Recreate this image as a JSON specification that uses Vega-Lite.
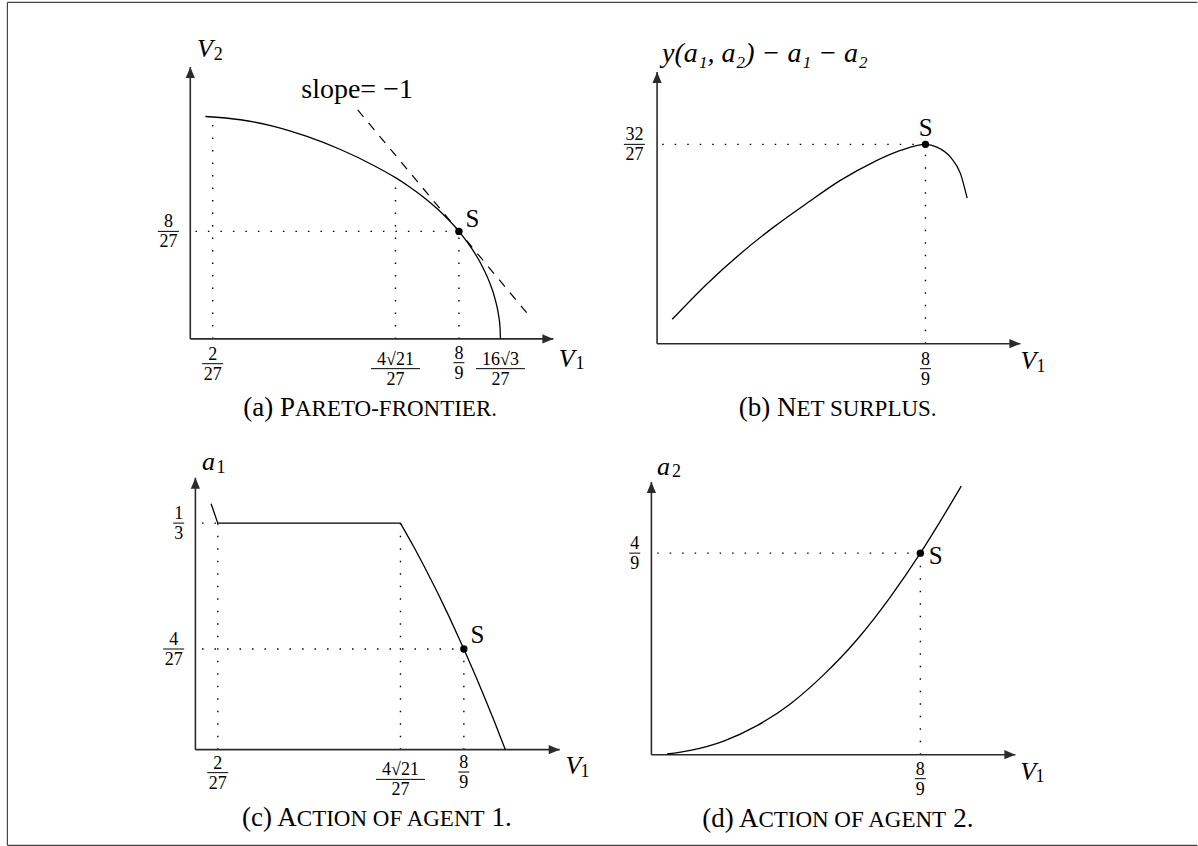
{
  "$schema": "https://vega.github.io/schema/vega-lite/v6.json",
  "padding": {"left": 6.4, "top": 1.4, "right": 0, "bottom": 0},
  "background": "#ffffff",
  "columns": 2,
  "spacing": {"row": 40, "column": 20},
  "bounds": "flush",
  "config": {
    "view": {"stroke": null},
    "text": {"font": "Liberation Serif", "color": "#000000"}
  },
  "datasets": {
    "frame": [
      {"x": -0.6052, "y": 0.9275, "x2": -0.6052, "y2": -1.3961},
      {"x": -0.6052, "y": 0.9275, "x2": 3.3326, "y2": 0.9275},
      {"x": -0.6052, "y": -1.3961, "x2": 3.3326, "y2": -1.3961}
    ],
    "axes": [
      {"panel": "a", "x": 0, "y": 0, "x2": 1.2015, "y2": 0, "dir": "right"},
      {"panel": "a", "x": 0, "y": 0, "x2": 0, "y2": 0.7492, "dir": "up"},
      {"panel": "b", "x": 0, "y": 0, "x2": 1.2034, "y2": 0, "dir": "right"},
      {"panel": "b", "x": 0, "y": 0, "x2": 0, "y2": 1.6147, "dir": "up"},
      {"panel": "c", "x": 0, "y": 0, "x2": 1.2063, "y2": 0, "dir": "right"},
      {"panel": "c", "x": 0, "y": 0, "x2": 0, "y2": 0.4001, "dir": "up"},
      {"panel": "d", "x": 0, "y": 0, "x2": 1.2029, "y2": 0, "dir": "right"},
      {"panel": "d", "x": 0, "y": 0, "x2": 0, "y2": 0.601, "dir": "up"}
    ],
    "curves": [
      {"panel": "a", "x": 0.05, "y": 0.613},
      {"panel": "a", "x": 0.166, "y": 0.604},
      {"panel": "a", "x": 0.276, "y": 0.586},
      {"panel": "a", "x": 0.386, "y": 0.558},
      {"panel": "a", "x": 0.497, "y": 0.522},
      {"panel": "a", "x": 0.607, "y": 0.478},
      {"panel": "a", "x": 0.679, "y": 0.4444},
      {"panel": "a", "x": 0.72, "y": 0.4223},
      {"panel": "a", "x": 0.77, "y": 0.3918},
      {"panel": "a", "x": 0.82, "y": 0.3564},
      {"panel": "a", "x": 0.8889, "y": 0.2963},
      {"panel": "a", "x": 0.93, "y": 0.2507},
      {"panel": "a", "x": 0.96, "y": 0.2097},
      {"panel": "a", "x": 0.99, "y": 0.1564},
      {"panel": "a", "x": 1.01, "y": 0.1055},
      {"panel": "a", "x": 1.02, "y": 0.066},
      {"panel": "a", "x": 1.025, "y": 0.0308},
      {"panel": "a", "x": 1.0264, "y": 0},
      {"panel": "b", "x": 0.05, "y": 0.145},
      {"panel": "b", "x": 0.166, "y": 0.357},
      {"panel": "b", "x": 0.276, "y": 0.535},
      {"panel": "b", "x": 0.386, "y": 0.693},
      {"panel": "b", "x": 0.497, "y": 0.836},
      {"panel": "b", "x": 0.607, "y": 0.971},
      {"panel": "b", "x": 0.717, "y": 1.08},
      {"panel": "b", "x": 0.806, "y": 1.149},
      {"panel": "b", "x": 0.8889, "y": 1.1852},
      {"panel": "b", "x": 0.927, "y": 1.169},
      {"panel": "b", "x": 0.972, "y": 1.109},
      {"panel": "b", "x": 1.005, "y": 1.011},
      {"panel": "b", "x": 1.027, "y": 0.866},
      {"panel": "c", "x": 0.052, "y": 0.3619},
      {"panel": "c", "x": 0.0741, "y": 0.3333},
      {"panel": "c", "x": 0.679, "y": 0.3333},
      {"panel": "c", "x": 0.72, "y": 0.301},
      {"panel": "c", "x": 0.76, "y": 0.2677},
      {"panel": "c", "x": 0.8, "y": 0.2326},
      {"panel": "c", "x": 0.84, "y": 0.1957},
      {"panel": "c", "x": 0.8889, "y": 0.1481},
      {"panel": "c", "x": 0.93, "y": 0.1061},
      {"panel": "c", "x": 0.96, "y": 0.0742},
      {"panel": "c", "x": 0.99, "y": 0.0413},
      {"panel": "c", "x": 1.0264, "y": 0},
      {"panel": "d", "x": 0.052, "y": 0.0015},
      {"panel": "d", "x": 0.129, "y": 0.0095},
      {"panel": "d", "x": 0.239, "y": 0.03},
      {"panel": "d", "x": 0.349, "y": 0.064},
      {"panel": "d", "x": 0.459, "y": 0.112},
      {"panel": "d", "x": 0.569, "y": 0.176},
      {"panel": "d", "x": 0.68, "y": 0.254},
      {"panel": "d", "x": 0.79, "y": 0.348},
      {"panel": "d", "x": 0.8889, "y": 0.4444},
      {"panel": "d", "x": 0.955, "y": 0.515},
      {"panel": "d", "x": 1.024, "y": 0.592}
    ],
    "guides": [
      {"panel": "a", "x": 0.0741, "y": 0, "x2": 0.0741, "y2": 0.608},
      {"panel": "a", "x": 0.679, "y": 0, "x2": 0.679, "y2": 0.437},
      {"panel": "a", "x": 0.8889, "y": 0, "x2": 0.8889, "y2": 0.2963},
      {"panel": "a", "x": 0.017, "y": 0.2963, "x2": 0.8889, "y2": 0.2963},
      {"panel": "b", "x": 0.8889, "y": 0, "x2": 0.8889, "y2": 1.1852},
      {"panel": "b", "x": 0.017, "y": 1.1852, "x2": 0.8889, "y2": 1.1852},
      {"panel": "c", "x": 0.0741, "y": 0, "x2": 0.0741, "y2": 0.3333},
      {"panel": "c", "x": 0.679, "y": 0, "x2": 0.679, "y2": 0.3333},
      {"panel": "c", "x": 0.8889, "y": 0, "x2": 0.8889, "y2": 0.1481},
      {"panel": "c", "x": 0.022, "y": 0.3333, "x2": 0.0741, "y2": 0.3333},
      {"panel": "c", "x": 0.022, "y": 0.1481, "x2": 0.8889, "y2": 0.1481},
      {"panel": "d", "x": 0.8889, "y": 0, "x2": 0.8889, "y2": 0.4444},
      {"panel": "d", "x": 0.019, "y": 0.4444, "x2": 0.8889, "y2": 0.4444}
    ],
    "tangent": [
      {"panel": "a", "x": 0.554, "y": 0.6312, "x2": 1.1145, "y2": 0.0707}
    ],
    "points": [
      {"panel": "a", "x": 0.8889, "y": 0.2963},
      {"panel": "b", "x": 0.8889, "y": 1.1852},
      {"panel": "c", "x": 0.8889, "y": 0.1481},
      {"panel": "d", "x": 0.8889, "y": 0.4444}
    ],
    "labels": [
      {"panel": "a", "x": 0.9103, "y": 0.3082, "text": "S"},
      {"panel": "b", "x": 0.8665, "y": 1.2325, "text": "S"},
      {"panel": "c", "x": 0.9106, "y": 0.1568, "text": "S"},
      {"panel": "d", "x": 0.9164, "y": 0.4211, "text": "S"}
    ],
    "notes": [
      {"panel": "a", "x": 0.552, "y": 0.6648, "text": "slope= \u22121"}
    ],
    "ylabels": [
      {"panel": "b", "x": 0.0166, "y": 1.6742, "text": "y(a\u2081, a\u2082) \u2212 a\u2081 \u2212 a\u2082"}
    ],
    "italics": [
      {"panel": "a", "x": 0.0225, "y": 0.7767, "text": "V"},
      {"panel": "a", "x": 1.2191, "y": -0.0777, "text": "V"},
      {"panel": "b", "x": 1.2034, "y": -0.1486, "text": "V"},
      {"panel": "c", "x": 0.0222, "y": 0.4108, "text": "a"},
      {"panel": "c", "x": 1.2252, "y": -0.0353, "text": "V"},
      {"panel": "d", "x": 0.0188, "y": 0.6157, "text": "a"},
      {"panel": "d", "x": 1.2194, "y": -0.0567, "text": "V"}
    ],
    "subs": [
      {"panel": "a", "x": 0.0774, "y": 0.7676, "text": "2"},
      {"panel": "a", "x": 1.2743, "y": -0.0841, "text": "1"},
      {"panel": "b", "x": 1.2564, "y": -0.17, "text": "1"},
      {"panel": "c", "x": 0.0695, "y": 0.4064, "text": "1"},
      {"panel": "c", "x": 1.2748, "y": -0.0403, "text": "1"},
      {"panel": "d", "x": 0.0684, "y": 0.6113, "text": "2"},
      {"panel": "d", "x": 1.269, "y": -0.0604, "text": "1"}
    ],
    "fractions": [
      {"panel": "a", "x": 0.0741, "y": -0.0684, "num": "2", "den": "27"},
      {"panel": "a", "x": 0.679, "y": -0.0821, "num": "4\u221a21", "den": "27"},
      {"panel": "a", "x": 0.8889, "y": -0.0656, "num": "8", "den": "9"},
      {"panel": "a", "x": 1.0264, "y": -0.0821, "num": "16\u221a3", "den": "27"},
      {"panel": "a", "x": -0.0725, "y": 0.2963, "num": "8", "den": "27"},
      {"panel": "b", "x": -0.0752, "y": 1.1852, "num": "32", "den": "27"},
      {"panel": "b", "x": 0.8889, "y": -0.1486, "num": "8", "den": "9"},
      {"panel": "c", "x": 0.0741, "y": -0.0338, "num": "2", "den": "27"},
      {"panel": "c", "x": 0.679, "y": -0.0437, "num": "4\u221a21", "den": "27"},
      {"panel": "c", "x": 0.8889, "y": -0.0329, "num": "8", "den": "9"},
      {"panel": "c", "x": -0.0553, "y": 0.3333, "num": "1", "den": "3"},
      {"panel": "c", "x": -0.0719, "y": 0.1481, "num": "4", "den": "27"},
      {"panel": "d", "x": -0.0552, "y": 0.4444, "num": "4", "den": "9"},
      {"panel": "d", "x": 0.8889, "y": -0.0529, "num": "8", "den": "9"}
    ],
    "captions": [
      {"panel": "a", "x": 0.3465, "y": -0.2136, "p1": "(a) P", "p2": "ARETO-FRONTIER."},
      {"panel": "b", "x": 0.4617, "y": -0.4322, "p1": "(b) N", "p2": "ET SURPLUS."},
      {"panel": "c", "x": 0.3358, "y": -0.1128, "p1": "(c) A", "p2": "CTION OF AGENT", "x3": 0.9808, "p3": "1."},
      {"panel": "d", "x": 0.3536, "y": -0.1603, "p1": "(d) A", "p2": "CTION OF AGENT", "x3": 0.9974, "p3": "2."}
    ]
  },
  "concat": [
    {
      "width": 440, "height": 360,
      "encoding": {
        "x": {"field": "x", "type": "quantitative", "scale": {"domain": [-0.132, 1.324], "nice": false, "zero": false}, "axis": null},
        "y": {"field": "y", "type": "quantitative", "scale": {"domain": [-0.142, 0.8503], "nice": false, "zero": false}, "axis": null}
      },
      "layer": [
        {"data": {"name": "frame"}, "mark": {"type": "rule", "color": "#444444", "strokeWidth": 1.2}, "encoding": {"x2": {"field": "x2"}, "y2": {"field": "y2"}}},
        {"data": {"name": "guides"}, "transform": [{"filter": "datum.panel === 'a'"}], "mark": {"type": "rule", "strokeDash": [1.5, 11], "strokeWidth": 1.4, "color": "#000000"}, "encoding": {"x2": {"field": "x2"}, "y2": {"field": "y2"}}},
        {"data": {"name": "tangent"}, "transform": [{"filter": "datum.panel === 'a'"}], "mark": {"type": "rule", "strokeDash": [9, 8], "strokeWidth": 1.2, "color": "#000000"}, "encoding": {"x2": {"field": "x2"}, "y2": {"field": "y2"}}},
        {"data": {"name": "axes"}, "transform": [{"filter": "datum.panel === 'a'"}], "mark": {"type": "rule", "strokeWidth": 1.6, "color": "#2b2b2b"}, "encoding": {"x2": {"field": "x2"}, "y2": {"field": "y2"}}},
        {"data": {"name": "axes"}, "transform": [{"filter": "datum.panel === 'a'"}], "mark": {"type": "point", "filled": true, "opacity": 1, "size": 484, "color": "#2b2b2b"}, "encoding": {"x": {"field": "x2", "type": "quantitative"}, "y": {"field": "y2", "type": "quantitative"}, "shape": {"field": "dir", "type": "nominal", "scale": {"domain": ["right", "up"], "range": ["M-1,-0.42L0,0L-1,0.42Z", "M-0.42,1L0,0L0.42,1Z"]}, "legend": null}}},
        {"data": {"name": "curves"}, "transform": [{"filter": "datum.panel === 'a'"}], "mark": {"type": "line", "interpolate": "monotone", "strokeWidth": 1.3, "color": "#000000"}},
        {"data": {"name": "points"}, "transform": [{"filter": "datum.panel === 'a'"}], "mark": {"type": "point", "shape": "circle", "filled": true, "opacity": 1, "size": 55, "color": "#000000"}},
        {"data": {"name": "labels"}, "transform": [{"filter": "datum.panel === 'a'"}], "mark": {"type": "text", "align": "left", "baseline": "alphabetic", "fontSize": 25}, "encoding": {"text": {"field": "text"}}},
        {"data": {"name": "notes"}, "transform": [{"filter": "datum.panel === 'a'"}], "mark": {"type": "text", "align": "center", "baseline": "alphabetic", "fontSize": 28}, "encoding": {"text": {"field": "text"}}},
        {"data": {"name": "italics"}, "transform": [{"filter": "datum.panel === 'a'"}], "mark": {"type": "text", "align": "left", "baseline": "alphabetic", "fontSize": 26, "fontStyle": "italic"}, "encoding": {"text": {"field": "text"}}},
        {"data": {"name": "subs"}, "transform": [{"filter": "datum.panel === 'a'"}], "mark": {"type": "text", "align": "left", "baseline": "alphabetic", "fontSize": 18}, "encoding": {"text": {"field": "text"}}},
        {"data": {"name": "fractions"}, "transform": [{"filter": "datum.panel === 'a'"}], "mark": {"type": "text", "align": "center", "baseline": "alphabetic", "fontSize": 18, "dy": -4}, "encoding": {"text": {"field": "num"}}},
        {"data": {"name": "fractions"}, "transform": [{"filter": "datum.panel === 'a'"}], "mark": {"type": "text", "align": "center", "baseline": "alphabetic", "fontSize": 18, "dy": 16}, "encoding": {"text": {"field": "den"}}},
        {"data": {"name": "fractions"}, "transform": [{"filter": "datum.panel === 'a' && length(datum.den) === 1"}], "mark": {"type": "rule", "strokeWidth": 1, "color": "#000000", "xOffset": -5.5, "x2Offset": 5.5}, "encoding": {"x2": {"field": "x"}}},
        {"data": {"name": "fractions"}, "transform": [{"filter": "datum.panel === 'a' && length(datum.den) === 2 && length(datum.num) <= 2"}], "mark": {"type": "rule", "strokeWidth": 1, "color": "#000000", "xOffset": -10.5, "x2Offset": 10.5}, "encoding": {"x2": {"field": "x"}}},
        {"data": {"name": "fractions"}, "transform": [{"filter": "datum.panel === 'a' && length(datum.num) > 2"}], "mark": {"type": "rule", "strokeWidth": 1, "color": "#000000", "xOffset": -24.5, "x2Offset": 24.5}, "encoding": {"x2": {"field": "x"}}},
        {"data": {"name": "captions"}, "transform": [{"filter": "datum.panel === 'a'"}], "mark": {"type": "text", "align": "right", "baseline": "alphabetic", "fontSize": 27}, "encoding": {"text": {"field": "p1"}}},
        {"data": {"name": "captions"}, "transform": [{"filter": "datum.panel === 'a'"}], "mark": {"type": "text", "align": "left", "baseline": "alphabetic", "fontSize": 23}, "encoding": {"text": {"field": "p2"}}}
      ]
    },
    {
      "width": 440, "height": 360,
      "encoding": {
        "x": {"field": "x", "type": "quantitative", "scale": {"domain": [-0.1547, 1.3028], "nice": false, "zero": false}, "axis": null},
        "y": {"field": "y", "type": "quantitative", "scale": {"domain": [-0.2776, 1.8627], "nice": false, "zero": false}, "axis": null}
      },
      "layer": [
        {"data": {"name": "guides"}, "transform": [{"filter": "datum.panel === 'b'"}], "mark": {"type": "rule", "strokeDash": [1.5, 11], "strokeWidth": 1.4, "color": "#000000"}, "encoding": {"x2": {"field": "x2"}, "y2": {"field": "y2"}}},
        {"data": {"name": "axes"}, "transform": [{"filter": "datum.panel === 'b'"}], "mark": {"type": "rule", "strokeWidth": 1.6, "color": "#2b2b2b"}, "encoding": {"x2": {"field": "x2"}, "y2": {"field": "y2"}}},
        {"data": {"name": "axes"}, "transform": [{"filter": "datum.panel === 'b'"}], "mark": {"type": "point", "filled": true, "opacity": 1, "size": 484, "color": "#2b2b2b"}, "encoding": {"x": {"field": "x2", "type": "quantitative"}, "y": {"field": "y2", "type": "quantitative"}, "shape": {"field": "dir", "type": "nominal", "scale": {"domain": ["right", "up"], "range": ["M-1,-0.42L0,0L-1,0.42Z", "M-0.42,1L0,0L0.42,1Z"]}, "legend": null}}},
        {"data": {"name": "curves"}, "transform": [{"filter": "datum.panel === 'b'"}], "mark": {"type": "line", "interpolate": "monotone", "strokeWidth": 1.3, "color": "#000000"}},
        {"data": {"name": "points"}, "transform": [{"filter": "datum.panel === 'b'"}], "mark": {"type": "point", "shape": "circle", "filled": true, "opacity": 1, "size": 55, "color": "#000000"}},
        {"data": {"name": "labels"}, "transform": [{"filter": "datum.panel === 'b'"}], "mark": {"type": "text", "align": "left", "baseline": "alphabetic", "fontSize": 25}, "encoding": {"text": {"field": "text"}}},
        {"data": {"name": "ylabels"}, "transform": [{"filter": "datum.panel === 'b'"}], "mark": {"type": "text", "align": "left", "baseline": "alphabetic", "fontSize": 28, "fontStyle": "italic"}, "encoding": {"text": {"field": "text"}}},
        {"data": {"name": "italics"}, "transform": [{"filter": "datum.panel === 'b'"}], "mark": {"type": "text", "align": "left", "baseline": "alphabetic", "fontSize": 26, "fontStyle": "italic"}, "encoding": {"text": {"field": "text"}}},
        {"data": {"name": "subs"}, "transform": [{"filter": "datum.panel === 'b'"}], "mark": {"type": "text", "align": "left", "baseline": "alphabetic", "fontSize": 18}, "encoding": {"text": {"field": "text"}}},
        {"data": {"name": "fractions"}, "transform": [{"filter": "datum.panel === 'b'"}], "mark": {"type": "text", "align": "center", "baseline": "alphabetic", "fontSize": 18, "dy": -4}, "encoding": {"text": {"field": "num"}}},
        {"data": {"name": "fractions"}, "transform": [{"filter": "datum.panel === 'b'"}], "mark": {"type": "text", "align": "center", "baseline": "alphabetic", "fontSize": 18, "dy": 16}, "encoding": {"text": {"field": "den"}}},
        {"data": {"name": "fractions"}, "transform": [{"filter": "datum.panel === 'b' && length(datum.den) === 1"}], "mark": {"type": "rule", "strokeWidth": 1, "color": "#000000", "xOffset": -5.5, "x2Offset": 5.5}, "encoding": {"x2": {"field": "x"}}},
        {"data": {"name": "fractions"}, "transform": [{"filter": "datum.panel === 'b' && length(datum.den) === 2 && length(datum.num) <= 2"}], "mark": {"type": "rule", "strokeWidth": 1, "color": "#000000", "xOffset": -10.5, "x2Offset": 10.5}, "encoding": {"x2": {"field": "x"}}},
        {"data": {"name": "captions"}, "transform": [{"filter": "datum.panel === 'b'"}], "mark": {"type": "text", "align": "right", "baseline": "alphabetic", "fontSize": 27}, "encoding": {"text": {"field": "p1"}}},
        {"data": {"name": "captions"}, "transform": [{"filter": "datum.panel === 'b'"}], "mark": {"type": "text", "align": "left", "baseline": "alphabetic", "fontSize": 23}, "encoding": {"text": {"field": "p2"}}}
      ]
    },
    {
      "width": 440, "height": 360,
      "encoding": {
        "x": {"field": "x", "type": "quantitative", "scale": {"domain": [-0.149, 1.3079], "nice": false, "zero": false}, "axis": null},
        "y": {"field": "y", "type": "quantitative", "scale": {"domain": [-0.0599, 0.4697], "nice": false, "zero": false}, "axis": null}
      },
      "layer": [
        {"data": {"name": "guides"}, "transform": [{"filter": "datum.panel === 'c'"}], "mark": {"type": "rule", "strokeDash": [1.5, 11], "strokeWidth": 1.4, "color": "#000000"}, "encoding": {"x2": {"field": "x2"}, "y2": {"field": "y2"}}},
        {"data": {"name": "axes"}, "transform": [{"filter": "datum.panel === 'c'"}], "mark": {"type": "rule", "strokeWidth": 1.6, "color": "#2b2b2b"}, "encoding": {"x2": {"field": "x2"}, "y2": {"field": "y2"}}},
        {"data": {"name": "axes"}, "transform": [{"filter": "datum.panel === 'c'"}], "mark": {"type": "point", "filled": true, "opacity": 1, "size": 484, "color": "#2b2b2b"}, "encoding": {"x": {"field": "x2", "type": "quantitative"}, "y": {"field": "y2", "type": "quantitative"}, "shape": {"field": "dir", "type": "nominal", "scale": {"domain": ["right", "up"], "range": ["M-1,-0.42L0,0L-1,0.42Z", "M-0.42,1L0,0L0.42,1Z"]}, "legend": null}}},
        {"data": {"name": "curves"}, "transform": [{"filter": "datum.panel === 'c'"}], "mark": {"type": "line", "interpolate": "linear", "strokeWidth": 1.3, "color": "#000000"}},
        {"data": {"name": "points"}, "transform": [{"filter": "datum.panel === 'c'"}], "mark": {"type": "point", "shape": "circle", "filled": true, "opacity": 1, "size": 55, "color": "#000000"}},
        {"data": {"name": "labels"}, "transform": [{"filter": "datum.panel === 'c'"}], "mark": {"type": "text", "align": "left", "baseline": "alphabetic", "fontSize": 25}, "encoding": {"text": {"field": "text"}}},
        {"data": {"name": "italics"}, "transform": [{"filter": "datum.panel === 'c'"}], "mark": {"type": "text", "align": "left", "baseline": "alphabetic", "fontSize": 26, "fontStyle": "italic"}, "encoding": {"text": {"field": "text"}}},
        {"data": {"name": "subs"}, "transform": [{"filter": "datum.panel === 'c'"}], "mark": {"type": "text", "align": "left", "baseline": "alphabetic", "fontSize": 18}, "encoding": {"text": {"field": "text"}}},
        {"data": {"name": "fractions"}, "transform": [{"filter": "datum.panel === 'c'"}], "mark": {"type": "text", "align": "center", "baseline": "alphabetic", "fontSize": 18, "dy": -4}, "encoding": {"text": {"field": "num"}}},
        {"data": {"name": "fractions"}, "transform": [{"filter": "datum.panel === 'c'"}], "mark": {"type": "text", "align": "center", "baseline": "alphabetic", "fontSize": 18, "dy": 16}, "encoding": {"text": {"field": "den"}}},
        {"data": {"name": "fractions"}, "transform": [{"filter": "datum.panel === 'c' && length(datum.den) === 1"}], "mark": {"type": "rule", "strokeWidth": 1, "color": "#000000", "xOffset": -5.5, "x2Offset": 5.5}, "encoding": {"x2": {"field": "x"}}},
        {"data": {"name": "fractions"}, "transform": [{"filter": "datum.panel === 'c' && length(datum.den) === 2 && length(datum.num) <= 2"}], "mark": {"type": "rule", "strokeWidth": 1, "color": "#000000", "xOffset": -10.5, "x2Offset": 10.5}, "encoding": {"x2": {"field": "x"}}},
        {"data": {"name": "fractions"}, "transform": [{"filter": "datum.panel === 'c' && length(datum.num) > 2"}], "mark": {"type": "rule", "strokeWidth": 1, "color": "#000000", "xOffset": -24.5, "x2Offset": 24.5}, "encoding": {"x2": {"field": "x"}}},
        {"data": {"name": "captions"}, "transform": [{"filter": "datum.panel === 'c'"}], "mark": {"type": "text", "align": "right", "baseline": "alphabetic", "fontSize": 27}, "encoding": {"text": {"field": "p1"}}},
        {"data": {"name": "captions"}, "transform": [{"filter": "datum.panel === 'c'"}], "mark": {"type": "text", "align": "left", "baseline": "alphabetic", "fontSize": 23}, "encoding": {"text": {"field": "p2"}}},
        {"data": {"name": "captions"}, "transform": [{"filter": "datum.panel === 'c'"}], "mark": {"type": "text", "align": "left", "baseline": "alphabetic", "fontSize": 27}, "encoding": {"x": {"field": "x3", "type": "quantitative"}, "text": {"field": "p3"}}}
      ]
    },
    {
      "width": 440, "height": 360,
      "encoding": {
        "x": {"field": "x", "type": "quantitative", "scale": {"domain": [-0.1355, 1.3186], "nice": false, "zero": false}, "axis": null},
        "y": {"field": "y", "type": "quantitative", "scale": {"domain": [-0.0787, 0.715], "nice": false, "zero": false}, "axis": null}
      },
      "layer": [
        {"data": {"name": "guides"}, "transform": [{"filter": "datum.panel === 'd'"}], "mark": {"type": "rule", "strokeDash": [1.5, 11], "strokeWidth": 1.4, "color": "#000000"}, "encoding": {"x2": {"field": "x2"}, "y2": {"field": "y2"}}},
        {"data": {"name": "axes"}, "transform": [{"filter": "datum.panel === 'd'"}], "mark": {"type": "rule", "strokeWidth": 1.6, "color": "#2b2b2b"}, "encoding": {"x2": {"field": "x2"}, "y2": {"field": "y2"}}},
        {"data": {"name": "axes"}, "transform": [{"filter": "datum.panel === 'd'"}], "mark": {"type": "point", "filled": true, "opacity": 1, "size": 484, "color": "#2b2b2b"}, "encoding": {"x": {"field": "x2", "type": "quantitative"}, "y": {"field": "y2", "type": "quantitative"}, "shape": {"field": "dir", "type": "nominal", "scale": {"domain": ["right", "up"], "range": ["M-1,-0.42L0,0L-1,0.42Z", "M-0.42,1L0,0L0.42,1Z"]}, "legend": null}}},
        {"data": {"name": "curves"}, "transform": [{"filter": "datum.panel === 'd'"}], "mark": {"type": "line", "interpolate": "monotone", "strokeWidth": 1.3, "color": "#000000"}},
        {"data": {"name": "points"}, "transform": [{"filter": "datum.panel === 'd'"}], "mark": {"type": "point", "shape": "circle", "filled": true, "opacity": 1, "size": 55, "color": "#000000"}},
        {"data": {"name": "labels"}, "transform": [{"filter": "datum.panel === 'd'"}], "mark": {"type": "text", "align": "left", "baseline": "alphabetic", "fontSize": 25}, "encoding": {"text": {"field": "text"}}},
        {"data": {"name": "italics"}, "transform": [{"filter": "datum.panel === 'd'"}], "mark": {"type": "text", "align": "left", "baseline": "alphabetic", "fontSize": 26, "fontStyle": "italic"}, "encoding": {"text": {"field": "text"}}},
        {"data": {"name": "subs"}, "transform": [{"filter": "datum.panel === 'd'"}], "mark": {"type": "text", "align": "left", "baseline": "alphabetic", "fontSize": 18}, "encoding": {"text": {"field": "text"}}},
        {"data": {"name": "fractions"}, "transform": [{"filter": "datum.panel === 'd'"}], "mark": {"type": "text", "align": "center", "baseline": "alphabetic", "fontSize": 18, "dy": -4}, "encoding": {"text": {"field": "num"}}},
        {"data": {"name": "fractions"}, "transform": [{"filter": "datum.panel === 'd'"}], "mark": {"type": "text", "align": "center", "baseline": "alphabetic", "fontSize": 18, "dy": 16}, "encoding": {"text": {"field": "den"}}},
        {"data": {"name": "fractions"}, "transform": [{"filter": "datum.panel === 'd' && length(datum.den) === 1"}], "mark": {"type": "rule", "strokeWidth": 1, "color": "#000000", "xOffset": -5.5, "x2Offset": 5.5}, "encoding": {"x2": {"field": "x"}}},
        {"data": {"name": "captions"}, "transform": [{"filter": "datum.panel === 'd'"}], "mark": {"type": "text", "align": "right", "baseline": "alphabetic", "fontSize": 27}, "encoding": {"text": {"field": "p1"}}},
        {"data": {"name": "captions"}, "transform": [{"filter": "datum.panel === 'd'"}], "mark": {"type": "text", "align": "left", "baseline": "alphabetic", "fontSize": 23}, "encoding": {"text": {"field": "p2"}}},
        {"data": {"name": "captions"}, "transform": [{"filter": "datum.panel === 'd'"}], "mark": {"type": "text", "align": "left", "baseline": "alphabetic", "fontSize": 27}, "encoding": {"x": {"field": "x3", "type": "quantitative"}, "text": {"field": "p3"}}}
      ]
    }
  ]
}
